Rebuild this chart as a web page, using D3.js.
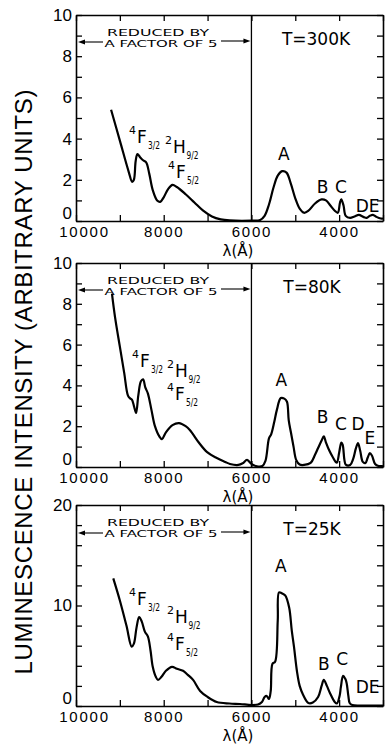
<!DOCTYPE html>
<html><head><meta charset="utf-8">
<script src="https://cdn.jsdelivr.net/npm/d3@7"></script>
<style>
html,body{margin:0;padding:0;background:#fff;}
svg{display:block;font-family:"DejaVu Sans","Liberation Sans",sans-serif;}
</style></head>
<body><svg id="c" width="385" height="744"></svg>
<script>
// ---------- data ----------
const temperatures = ["T=300K", "T=80K", "T=25K"];
const yMaxes = [10, 10, 20];
const yMinorSteps = [1, 1, 2];
const yLabelSteps = [2, 2, 10];
const xTicks = [10000, 9000, 8000, 7000, 6000, 5000, 4000, 3000];
const xTickLabels = [10000, 8000, 6000, 4000];

const lambda300 = [9200,9000,8800,8720,8680,8640,8600,8540,8470,8400,8330,8250,8150,8080,8000,7900,7800,7700,7500,7300,7100,6900,6700,6500,6000,5800,5700,5600,5500,5400,5300,5200,5100,5000,4900,4800,4700,4550,4400,4300,4200,4100,4030,3980,3950,3900,3850,3750,3650,3550,3450,3370,3300,3230,3150,3050,3000];
const int300 = [5.4,3.9,2.4,1.9,2.0,2.9,3.25,3.1,2.95,2.85,2.3,1.5,1.0,0.93,1.15,1.55,1.75,1.65,1.3,0.9,0.5,0.22,0.08,0.03,0.02,0.05,0.25,0.8,1.6,2.2,2.42,2.35,1.8,1.1,0.6,0.4,0.5,0.85,1.05,1.0,0.75,0.5,0.4,0.9,1.05,0.75,0.25,0.15,0.22,0.3,0.2,0.15,0.25,0.3,0.2,0.12,0.12];

const lambda80 = [9180,9110,9000,8900,8815,8760,8725,8680,8630,8580,8520,8470,8420,8360,8280,8200,8100,8040,7950,7800,7650,7500,7400,7200,7010,6800,6600,6490,6300,6200,6100,6000,5900,5750,5680,5600,5550,5480,5420,5330,5250,5190,5150,5100,5040,4980,4900,4800,4650,4550,4480,4400,4350,4300,4230,4150,4080,4050,4000,3950,3920,3880,3850,3750,3680,3620,3570,3520,3460,3400,3350,3300,3250,3180,3100,3000];
const int80 = [8.5,7.35,5.9,4.6,3.5,3.35,3.3,3.0,2.65,3.5,4.2,4.3,3.9,3.6,2.8,2.0,1.5,1.37,1.7,2.05,2.15,2.0,1.8,1.2,0.73,0.45,0.25,0.15,0.1,0.18,0.35,0.15,0.05,0.05,0.3,1.4,1.6,2.2,2.8,3.38,3.35,3.2,2.3,1.7,1.0,0.35,0.12,0.1,0.2,0.6,0.93,1.3,1.5,1.2,0.83,0.5,0.25,0.22,0.7,1.2,1.1,0.35,0.12,0.1,0.4,0.9,1.17,0.8,0.25,0.2,0.45,0.68,0.55,0.15,0.05,0.05];

const lambda25 = [9150,9000,8850,8730,8680,8620,8560,8500,8430,8360,8300,8250,8180,8130,8050,7950,7810,7700,7560,7450,7330,7170,7000,6790,6500,6260,6000,5850,5760,5700,5650,5600,5560,5520,5460,5400,5370,5300,5230,5140,5080,5030,4960,4900,4820,4700,4600,4480,4400,4350,4280,4210,4100,4050,3990,3960,3910,3860,3830,3790,3760,3700,3500,3000];
const int25 = [12.7,10.5,8.0,5.9,6.2,7.8,8.85,8.4,7.4,6.9,5.5,3.9,2.9,2.6,2.9,3.5,3.9,3.7,3.5,3.1,2.6,1.5,0.9,0.4,0.25,0.2,0.1,0.15,0.4,0.9,1.0,0.7,1.5,4.2,4.4,8.5,11.3,11.2,11.0,9.8,7.5,5.9,3.4,2.0,1.1,0.3,0.35,0.9,2.0,2.6,2.0,1.3,0.4,0.25,1.0,1.9,3.0,2.7,2.3,1.0,0.3,0.1,0.05,0.05];

const lambdas = [lambda300, lambda80, lambda25];
const intensities = [int300, int80, int25];

// ---------- layout ----------
const plotLeft = 76, plotRight = 383;
const panelTop = [15, 263, 505];
const panelBottom = [221, 467, 706];

const svg = d3.select("#c");
const x = d3.scaleLinear().domain([10000, 3000]).range([plotLeft, plotRight]);

const peakLabelPos = [
  [["A",5260,2.95],["B",4380,1.35],["C",3960,1.35],["DE",3350,0.45]],
  [["A",5320,3.95],["B",4380,2.15],["C",3960,1.8],["D",3570,1.8],["E",3300,1.15]],
  [["A",5330,13.3],["B",4350,3.6],["C",3930,4.1],["DE",3350,1.25]]
];
// term label anchors: [x px, baseline offset from panel top]
const termAnchor = [
  [[137,128],[173,138],[176,163]],
  [[140,104],[175,114],[175,137]],
  [[137,100],[175,118],[175,145]]
];

function termLabel(g, px, py, sup, letter, sub) {
  const t = g.append("g").attr("transform", `translate(${px},${py})`);
  t.append("text").attr("x", -1).attr("y", -9).attr("font-size", 11).attr("text-anchor","end").text(sup);
  t.append("text").attr("x", 0).attr("y", 0).attr("font-size", 17).text(letter);
  t.append("text").attr("x", letter === "H" ? 13.5 : 11).attr("y", 6).attr("font-size", 10.5)
    .attr("textLength", 12).attr("lengthAdjust","spacingAndGlyphs").text(sub);
}

for (let i = 0; i < 3; i++) {
  const top = panelTop[i], bot = panelBottom[i], ymax = yMaxes[i];
  const y = d3.scaleLinear().domain([0, ymax]).range([bot, top]);
  const g = svg.append("g");

  const yVals = d3.range(0, ymax + 0.001, yMinorSteps[i]);
  const lab = v => (v % yLabelSteps[i] === 0 ? v : "");

  // axes
  const bottomAx = g.append("g").attr("transform", `translate(0,${bot})`)
    .call(d3.axisBottom(x).tickValues(xTicks).tickSizeInner(-6).tickSizeOuter(0).tickPadding(5)
      .tickFormat(d => xTickLabels.includes(d) ? d : ""));
  bottomAx.selectAll("text").attr("font-size", 15).attr("letter-spacing", 1.8).attr("fill","#000")
    .attr("dy", "0.72em").attr("dx", d => d === 10000 ? 8 : 0);
  g.append("g").attr("transform", `translate(0,${top})`)
    .call(d3.axisTop(x).tickValues(xTicks).tickSizeInner(-6).tickSizeOuter(0).tickFormat(""));
  const leftAx = g.append("g").attr("transform", `translate(${plotLeft},0)`)
    .call(d3.axisLeft(y).tickValues(yVals).tickSizeInner(-6).tickSizeOuter(0).tickPadding(4).tickFormat(lab));
  leftAx.selectAll("text").attr("font-size", 17).attr("fill","#000")
    .attr("dy", d => d === 0 ? "-0.16em" : "0.32em");
  g.append("g").attr("transform", `translate(${plotRight},0)`)
    .call(d3.axisRight(y).tickValues(yVals).tickSizeInner(-6).tickSizeOuter(0).tickFormat(""));
  g.selectAll(".domain").attr("stroke", "#000").attr("stroke-width", 1.6);
  g.selectAll(".tick line").attr("stroke", "#000").attr("stroke-width", 1.3);

  // divider at 6000
  g.append("line").attr("x1", x(6000)).attr("x2", x(6000)).attr("y1", top).attr("y2", bot)
    .attr("stroke", "#000").attr("stroke-width", 1.3);

  // curve
  const pts = lambdas[i].map((l, k) => [l, intensities[i][k]]);
  g.append("path").datum(pts)
    .attr("d", d3.line().x(d => x(d[0])).y(d => y(d[1])).curve(d3.curveCatmullRom.alpha(0.5)))
    .attr("fill", "none").attr("stroke", "#000").attr("stroke-width", 2.2).attr("stroke-linejoin","round");

  // "reduced by" annotation
  const ry = top + (i === 2 ? 28 : 27);
  g.append("text").attr("x", 158).attr("y", top + 20.5).attr("font-size", 9.5).attr("text-anchor","middle")
    .attr("textLength", 102).attr("lengthAdjust","spacingAndGlyphs").text("REDUCED BY");
  g.append("text").attr("x", 161).attr("y", top + 32).attr("font-size", 9.5).attr("text-anchor","middle")
    .attr("textLength", 113).attr("lengthAdjust","spacingAndGlyphs").text("A FACTOR OF 5");
  g.append("line").attr("x1", 103).attr("x2", plotLeft + 7).attr("y1", ry).attr("y2", ry).attr("stroke","#000").attr("stroke-width",1.1);
  g.append("path").attr("d", `M${plotLeft+2},${ry} l7,-2.5 l0,5 z`).attr("fill","#000");
  g.append("line").attr("x1", 221).attr("x2", x(6000) - 6).attr("y1", ry - 1).attr("y2", ry - 1).attr("stroke","#000").attr("stroke-width",1.1);
  g.append("path").attr("d", `M${x(6000)-1},${ry-1} l-7,-2.5 l0,5 z`).attr("fill","#000");

  // temperature
  g.append("text").attr("x", 316 - (i === 0 ? 0 : 4)).attr("y", top + 30).attr("font-size", 17)
    .attr("text-anchor","middle").text(temperatures[i]);

  // peak labels
  peakLabelPos[i].forEach(([s, l, v]) => {
    g.append("text").attr("x", x(l)).attr("y", y(v)).attr("font-size", 17).attr("text-anchor","middle").text(s);
  });

  // term labels
  const ta = termAnchor[i];
  termLabel(g, ta[0][0], top + ta[0][1], "4", "F", "3/2");
  termLabel(g, ta[1][0], top + ta[1][1], "2", "H", "9/2");
  termLabel(g, ta[2][0], top + ta[2][1], "4", "F", "5/2");

  // x title
  g.append("text").attr("x", 238).attr("y", bot + 34.5).attr("font-size", 15).attr("text-anchor","middle")
    .text("λ(Å)");
}

// y title
svg.append("text").attr("transform", "translate(32,382) rotate(-90)")
  .attr("text-anchor","middle").attr("font-size", 24)
  .attr("textLength", 585).attr("lengthAdjust","spacing")
  .attr("font-family","'Liberation Sans',sans-serif")
  .text("LUMINESCENCE INTENSITY (ARBITRARY UNITS)");
</script></body></html>
